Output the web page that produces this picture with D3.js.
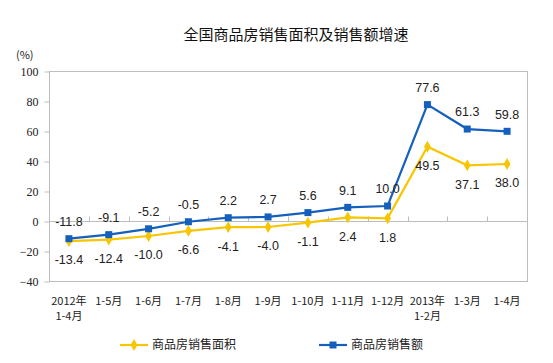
<!DOCTYPE html>
<html lang="zh">
<head>
  <meta charset="UTF-8">
  <title>全国商品房销售面积及销售额增速</title>
  <script src="https://cdn.jsdelivr.net/npm/d3@7/dist/d3.min.js"></script>
  <style>
    body { margin: 0; background: #fff; }
    svg { display: block; }
    .ytick text { font-family: "Liberation Serif", "Times New Roman", serif; font-size: 12px; fill: #222; }
    .xlab { font-family: "Noto Sans CJK SC", sans-serif; font-size: 11px; fill: #222; }
    .vlab { font-family: "Liberation Sans", Arial, sans-serif; font-size: 12.5px; fill: #222; text-anchor: middle; }
    .leg { font-family: "Noto Sans CJK SC", sans-serif; font-size: 12px; fill: #222; }
  </style>
</head>
<body>
<script>
  // 数据
  const categories = ['2012年\n1-4月', '1-5月', '1-6月', '1-7月', '1-8月', '1-9月', '1-10月', '1-11月', '1-12月', '2013年\n1-2月', '1-3月', '1-4月'];
  const areaGrowth = [-13.4, -12.4, -10.0, -6.6, -4.1, -4.0, -1.1, 2.4, 1.8, 49.5, 37.1, 38.0];
  const salesGrowth = [-11.8, -9.1, -5.2, -0.5, 2.2, 2.7, 5.6, 9.1, 10.0, 77.6, 61.3, 59.8];
  const yTicks = [-40, -20, 0, 20, 40, 60, 80, 100];

  const width = 553, height = 363;
  const plotL = 49, plotR = 527, plotT = 71, plotB = 281;
  const yellow = '#f7c600', blue = '#1560bd';

  const svg = d3.select('body').append('svg')
    .attr('width', width)
    .attr('height', height);

  const x = d3.scaleBand().domain(d3.range(categories.length)).range([plotL, plotR]);
  const y = d3.scaleLinear().domain([-40, 100]).range([plotB, plotT]);
  const cx = i => x(i) + x.bandwidth() / 2;

  // 标题
  svg.append('text')
    .attr('x', 296).attr('y', 40)
    .attr('text-anchor', 'middle')
    .style('font-family', '"Noto Sans CJK SC", sans-serif')
    .style('font-size', '15px')
    .style('fill', '#111')
    .text('全国商品房销售面积及销售额增速');

  svg.append('text')
    .attr('x', 16).attr('y', 59)
    .style('font-family', '"Noto Sans CJK SC", sans-serif')
    .style('font-size', '11px')
    .style('fill', '#222')
    .text('(%)');

  // 绘图区边框
  svg.append('rect')
    .attr('x', plotL + 0.5).attr('y', plotT + 0.5)
    .attr('width', plotR - plotL).attr('height', plotB - plotT)
    .attr('fill', 'none').attr('stroke', '#bdbdbd');

  // y轴
  const yAxis = d3.axisLeft(y).tickValues(yTicks).tickSize(5).tickPadding(6);
  const gy = svg.append('g').attr('class', 'ytick')
    .attr('transform', `translate(${plotL + 0.5},0.5)`)
    .call(yAxis);
  gy.select('.domain').remove();
  gy.selectAll('line').attr('stroke', '#bdbdbd');

  // 零轴
  const zeroY = Math.round(y(0)) + 0.5;
  svg.append('line')
    .attr('x1', plotL).attr('x2', plotR)
    .attr('y1', zeroY).attr('y2', zeroY)
    .attr('stroke', '#bdbdbd');
  svg.selectAll('.xtick')
    .data(d3.range(1, categories.length))
    .enter().append('line')
    .attr('x1', i => Math.round(x(i)) + 0.5).attr('x2', i => Math.round(x(i)) + 0.5)
    .attr('y1', zeroY).attr('y2', zeroY - 5)
    .attr('stroke', '#bdbdbd');

  // x轴标签
  const xl = svg.selectAll('.xlab')
    .data(categories)
    .enter().append('text')
    .attr('class', 'xlab')
    .attr('text-anchor', 'middle')
    .attr('x', (d, i) => cx(i))
    .attr('y', 305);
  xl.selectAll('tspan')
    .data(d => d.split('\n'))
    .enter().append('tspan')
    .attr('x', function () { return this.parentNode.getAttribute('x'); })
    .attr('dy', (d, i) => i === 0 ? 0 : 15)
    .text(d => d);

  const line = d3.line().x((d, i) => cx(i)).y(d => y(d));

  // 面积
  svg.append('path').datum(areaGrowth)
    .attr('d', line).attr('fill', 'none')
    .attr('stroke', yellow).attr('stroke-width', 2.2);
  svg.selectAll('.dia')
    .data(areaGrowth)
    .enter().append('path')
    .attr('d', d3.symbol(d3.symbolDiamond, 40))
    .attr('transform', (d, i) => `translate(${cx(i)},${y(d)})`)
    .attr('fill', yellow);

  // 销售额
  svg.append('path').datum(salesGrowth)
    .attr('d', line).attr('fill', 'none')
    .attr('stroke', blue).attr('stroke-width', 2.2);
  svg.selectAll('.sq')
    .data(salesGrowth)
    .enter().append('rect')
    .attr('x', (d, i) => cx(i) - 3.5).attr('y', d => y(d) - 3.5)
    .attr('width', 7).attr('height', 7)
    .attr('fill', blue);

  // 数据标签
  svg.selectAll('.lb')
    .data(salesGrowth)
    .enter().append('text')
    .attr('class', 'vlab')
    .attr('x', (d, i) => cx(i))
    .attr('y', d => y(d) - 17)
    .attr('dy', '0.35em')
    .text(d => d.toFixed(1));
  svg.selectAll('.la')
    .data(areaGrowth)
    .enter().append('text')
    .attr('class', 'vlab')
    .attr('x', (d, i) => cx(i))
    .attr('y', d => y(d) + 19)
    .attr('dy', '0.35em')
    .text(d => d.toFixed(1));

  // 图例
  const legend = [
    { name: '商品房销售面积', color: yellow, x: 120, mark: 'dia' },
    { name: '商品房销售额', color: blue, x: 319, mark: 'sq' }
  ];
  const lg = svg.selectAll('.lg').data(legend).enter().append('g')
    .attr('transform', d => `translate(${d.x},345)`);
  lg.append('line').attr('x1', 0).attr('x2', 28)
    .attr('stroke', d => d.color).attr('stroke-width', 2.2);
  lg.append('path')
    .attr('d', d => d.mark === 'dia' ? d3.symbol(d3.symbolDiamond, 40)() : 'M-3.5,-3.5h7v7h-7z')
    .attr('transform', 'translate(14,0)')
    .attr('fill', d => d.color);
  lg.append('text').attr('class', 'leg')
    .attr('x', 32).attr('dy', '0.35em')
    .text(d => d.name);
</script>
</body>
</html>
